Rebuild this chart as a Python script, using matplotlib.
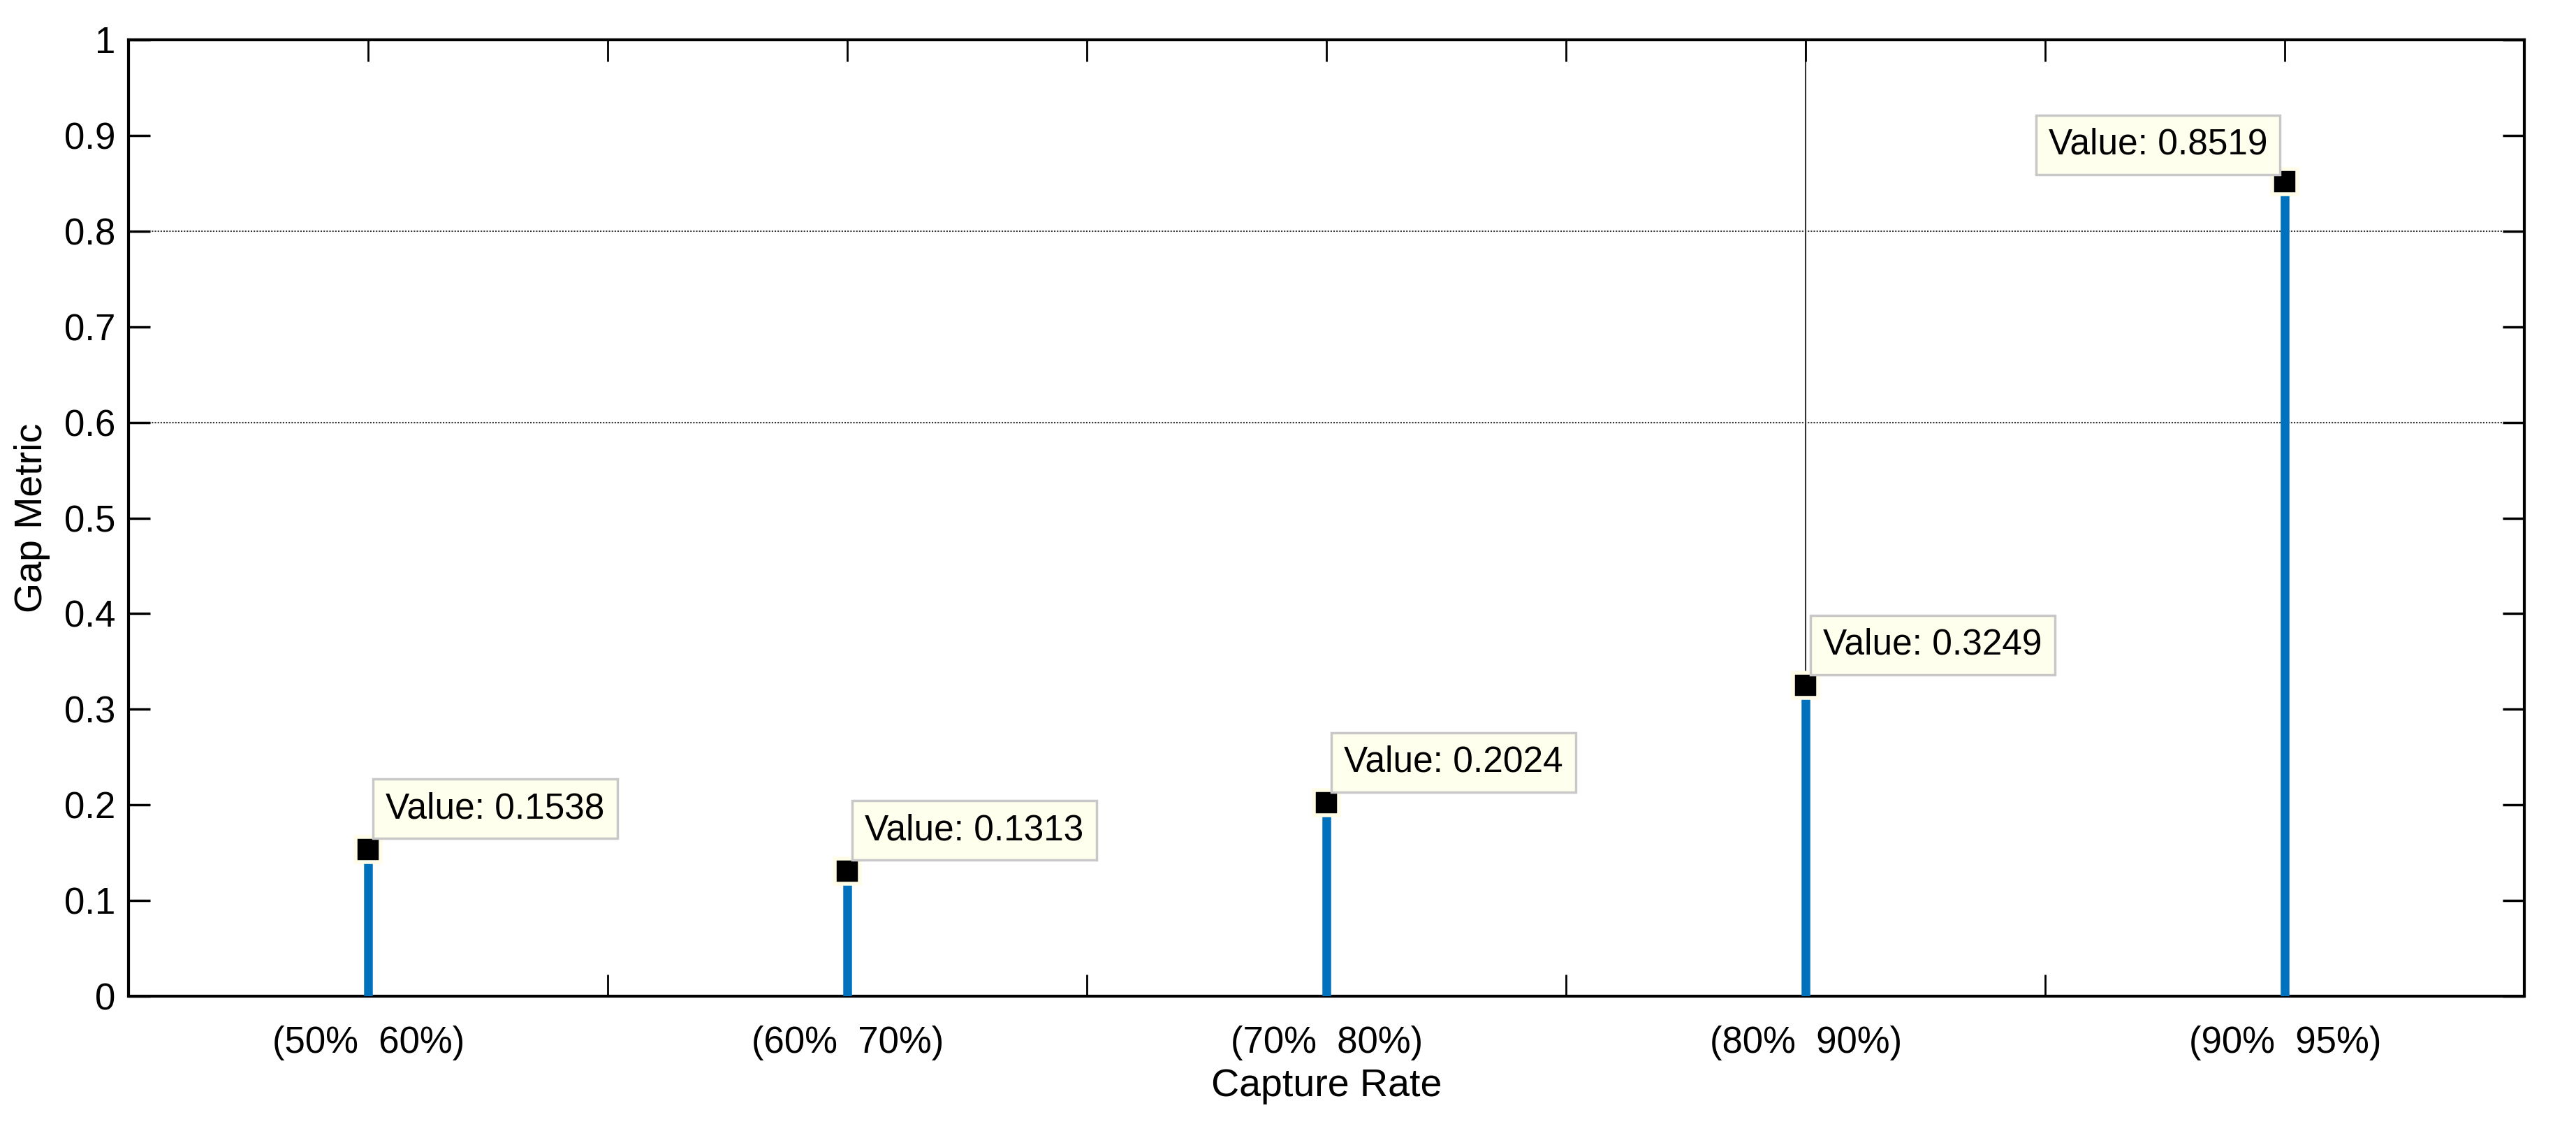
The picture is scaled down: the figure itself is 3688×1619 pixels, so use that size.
import matplotlib.pyplot as plt
import numpy as np

categories = ["(50%  60%)", "(60%  70%)", "(70%  80%)", "(80%  90%)", "(90%  95%)"]
gap_metric = [0.1538, 0.1313, 0.2024, 0.3249, 0.8519]
yticks = [0, 0.1, 0.2, 0.3, 0.4, 0.5, 0.6, 0.7, 0.8, 0.9, 1]

plt.rcParams['font.family'] = ['Liberation Sans', 'DejaVu Sans']
fig = plt.figure(figsize=(36.88, 16.19), dpi=100)
ax = fig.add_axes([0.05, 0.119, 0.93, 0.846])

x = np.arange(1, len(categories) + 1)
ax.vlines(x, 0, gap_metric, color='#0072BD', linewidth=9, zorder=3)
ax.plot(x, gap_metric, 's', color='black', markersize=26,
        markeredgecolor='#FFFDE8', markeredgewidth=4, zorder=4)

# partial grid like the original
for gy in [0.6, 0.8]:
    ax.axhline(gy, color='#333333', linewidth=1.5, linestyle=(0, (1, 1)), zorder=1)
ax.axvline(4, color='#333333', linewidth=1.5, zorder=1)

for xi, v in zip(x, gap_metric):
    if v > 0.8:
        off, ha = (-18, 20), 'right'
    else:
        off, ha = (18, 24), 'left'
    ax.annotate(f"Value: {v:.4f}", (xi, v), xytext=off, textcoords='offset points',
                ha=ha, va='bottom', fontsize=37,
                bbox=dict(boxstyle='square,pad=0.35', fc='#FFFFEE', ec='#C8C8C8', lw=2.5),
                zorder=5)

ax.set_xlim(0.5, 5.5)
ax.set_ylim(0, 1)
ax.set_xticks(x)
ax.set_xticklabels(categories)
ax.set_xticks(x[:-1] + 0.5, minor=True)
ax.set_yticks(yticks)
ax.set_yticklabels([f"{t:g}" for t in yticks])
ax.tick_params(direction='in', which='major', length=22, width=2.5, labelsize=38,
               top=True, right=True, pad=14)
ax.tick_params(direction='in', which='minor', length=22, width=2, top=True, bottom=True)
ax.tick_params(axis='x', which='major', length=22, width=2, pad=30)
for s in ax.spines.values():
    s.set_linewidth(3)
ax.set_xlabel("Capture Rate", fontsize=40, labelpad=8)
ax.set_ylabel("Gap Metric", fontsize=40, labelpad=14)

fig.savefig("out.png", dpi=100)
